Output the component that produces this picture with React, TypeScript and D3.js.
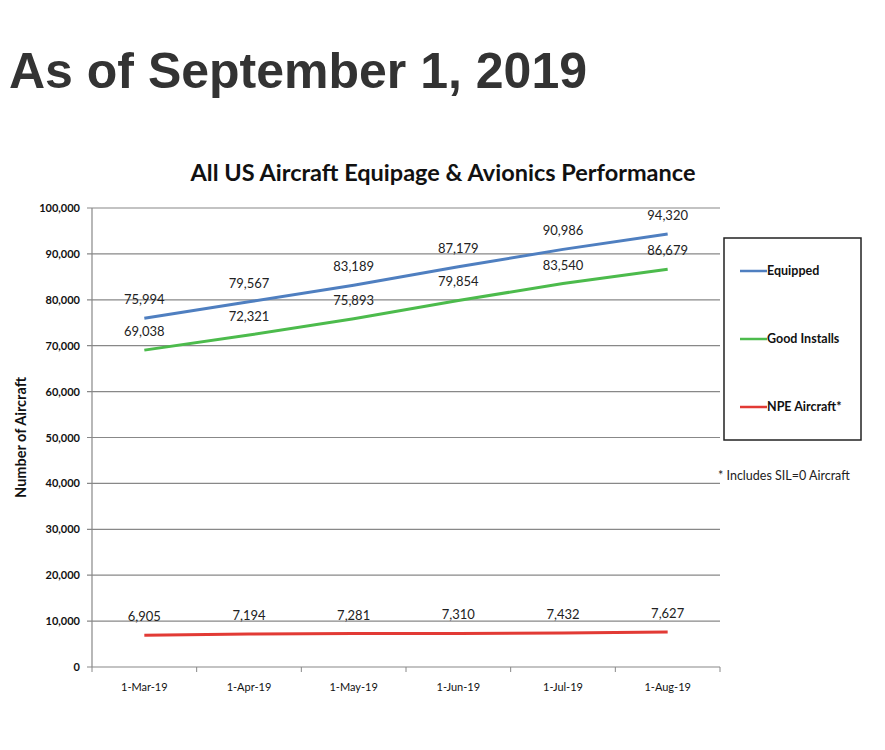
import React from "react";
import * as d3 from "d3";

const categories = ["1-Mar-19", "1-Apr-19", "1-May-19", "1-Jun-19", "1-Jul-19", "1-Aug-19"];
const equipped = [75994, 79567, 83189, 87179, 90986, 94320];
const goodInstalls = [69038, 72321, 75893, 79854, 83540, 86679];
const npeAircraft = [6905, 7194, 7281, 7310, 7432, 7627];
const yTicks = [0, 10000, 20000, 30000, 40000, 50000, 60000, 70000, 80000, 90000, 100000];
const seriesNames = ["Equipped", "Good Installs", "NPE Aircraft*"];
const seriesColors = ["#4f7fc0", "#4cbb4c", "#e23a35"];

export default function App() {
  const W = 885, H = 750;
  const left = 92, right = 720, top = 208, bottom = 667;
  const x = d3.scaleBand<string>().domain(categories).range([left, right]);
  const y = d3.scaleLinear().domain([0, 100000]).range([bottom, top]);
  const fmt = d3.format(",");
  const series = [equipped, goodInstalls, npeAircraft];
  const line = d3
    .line<number>()
    .x((_, i) => (x(categories[i]) as number) + x.bandwidth() / 2)
    .y((d) => y(d));
  const font = "Lato, 'Open Sans', sans-serif";
  return (
    <svg width={W} height={H} style={{ position: "absolute", left: 0, top: 0, background: "#fff" }}>
      <rect x={0} y={0} width={W} height={H} fill="#fff" />
      <text x={9} y={88} fontFamily="'Liberation Sans', Arial, sans-serif" fontWeight="bold" fontSize={50} fill="#333">
        As of September 1, 2019
      </text>
      <text x={443} y={181} textAnchor="middle" fontFamily={font} fontSize={23.5} fill="#111" fontWeight="bold">
        All US Aircraft Equipage &amp; Avionics Performance
      </text>
      {yTicks.map((t) => (
        <g key={t}>
          <line x1={left - 5} x2={right} y1={y(t)} y2={y(t)} stroke="#888" strokeWidth={1.2} />
          <text x={80} y={y(t) + 4} textAnchor="end" fontFamily={font} fontWeight="bold" fontSize={11} fill="#111">
            {fmt(t)}
          </text>
        </g>
      ))}
      <line x1={left} x2={left} y1={top} y2={bottom} stroke="#888" strokeWidth={1.2} />
      {categories.map((c) => (
        <g key={c}>
          <line x1={x(c) as number} x2={x(c) as number} y1={bottom} y2={bottom + 5} stroke="#888" />
          <text x={(x(c) as number) + x.bandwidth() / 2} y={bottom + 24} textAnchor="middle" fontFamily={font} fontSize={11} fill="#111">
            {c}
          </text>
        </g>
      ))}
      <line x1={right} x2={right} y1={bottom} y2={bottom + 5} stroke="#888" />
      <text
        transform={`translate(26,${(top + bottom) / 2}) rotate(-90)`}
        textAnchor="middle"
        fontFamily={font}
        fontWeight="bold"
        fontSize={14.5}
        fill="#111"
      >
        Number of Aircraft
      </text>
      {series.map((s, si) => (
        <g key={si}>
          <path d={line(s) || ""} fill="none" stroke={seriesColors[si]} strokeWidth={3} />
          {s.map((v, i) => (
            <text
              key={i}
              x={(x(categories[i]) as number) + x.bandwidth() / 2}
              y={y(v) - 14}
              textAnchor="middle"
              fontFamily={font}
              fontSize={13}
              fill="#222"
            >
              {fmt(v)}
            </text>
          ))}
        </g>
      ))}
      <rect x={724} y={238} width={137} height={202} fill="#fff" stroke="#222" strokeWidth={1.5} />
      {seriesNames.map((n, i) => (
        <g key={n}>
          <line x1={740} x2={767} y1={271 + i * 68} y2={271 + i * 68} stroke={seriesColors[i]} strokeWidth={2.5} />
          <text x={767} y={275 + i * 68} fontFamily={font} fontWeight="bold" fontSize={12.5} fill="#111">
            {n}
          </text>
        </g>
      ))}
      <text x={718} y={480} fontFamily={font} fontSize={12.5} fill="#222">
        * Includes SIL=0 Aircraft
      </text>
    </svg>
  );
}
